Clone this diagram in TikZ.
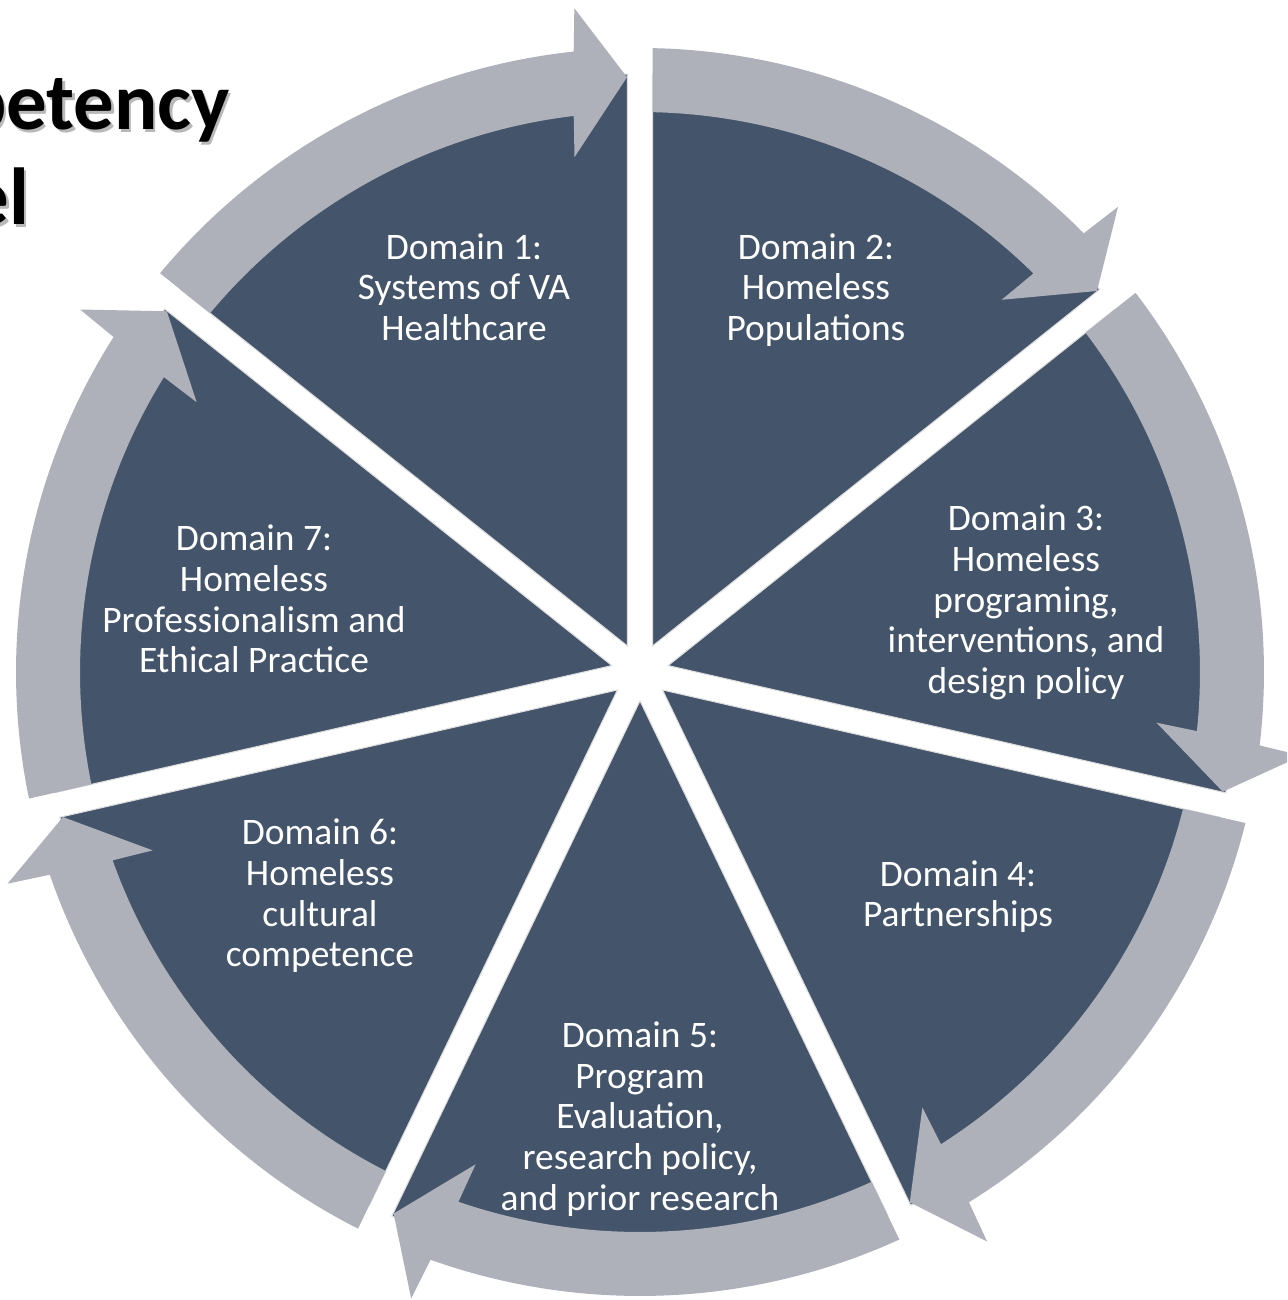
\documentclass[tikz,border=0pt]{standalone}
\usepackage{xcolor}
\usepackage{fontspec}
\setmainfont{Carlito}
\usetikzlibrary{positioning}
\definecolor{slate}{RGB}{68,84,106}
\definecolor{ring}{RGB}{174,177,185}
\definecolor{seam}{RGB}{222,222,222}
\tikzstyle{wedge}=[fill=slate, draw=seam, line width=0.6pt]
\tikzstyle{ringarrow}=[fill=ring]
\tikzset{domaintext/.style={text=white, align=center, font=\fontsize{21.3}{23.1}\selectfont}}
\tikzset{titletext/.style={font=\fontsize{46}{54}\selectfont\bfseries}}
\tikzset{titleshadow/.style={titletext, text=black!28}}
% #1 = lower boundary angle, #2 = upper boundary angle
\newcommand{\wedgepart}[2]{%
  \pgfmathsetmacro\wmid{(#1+#2)/2}%
  \draw[wedge] (\wmid:0.576) -- (#1+1.2:11.96) arc[start angle=#1+1.2, end angle=#2-1.2, radius=11.96] -- cycle;}
% clockwise arrow from boundary #2 down to boundary #1
\newcommand{\cyclearrow}[2]{%
  \fill[ringarrow] (#2-1.15:12.48) arc[start angle=#2-1.15, end angle=#1+6.1, radius=12.48]
    -- (#1+5.65:13.34) -- (#1+1.25:11.9) -- (#1+7.25:10.38) -- (#1+6.8:11.2)
    arc[start angle=#1+6.8, end angle=#2-1.28, radius=11.2] -- cycle;}

\begin{document}
\begin{tikzpicture}
  \useasboundingbox (-12.8,-12.56) rectangle (12.94,13.44);
  \clip (-12.8,-12.56) rectangle (12.94,13.44);

  %% Title (runs off the left edge)
  \draw (-8.03,10.79) node[titleshadow, anchor=base east] (T1s) {Competency};
  \draw ([yshift=-1.9cm]T1s.base west) node[titleshadow, anchor=base west] (T2s) {Model};
  \draw (-8.08,10.84) node[titletext, anchor=base east] (T1) {Competency};
  \draw ([yshift=-1.9cm]T1.base west) node[titletext, anchor=base west] (T2) {Model};

  %% Segments
  \wedgepart{90}{141.429}
  \wedgepart{38.571}{90}
  \wedgepart{-12.857}{38.571}
  \wedgepart{-64.286}{-12.857}
  \wedgepart{-115.714}{-64.286}
  \wedgepart{-167.143}{-115.714}
  \wedgepart{141.429}{192.857}

  %% Arrows round the cycle
  \cyclearrow{90}{141.429}
  \cyclearrow{38.571}{90}
  \cyclearrow{-12.857}{38.571}
  \cyclearrow{-64.286}{-12.857}
  \cyclearrow{-115.714}{-64.286}
  \cyclearrow{-167.143}{-115.714}
  \cyclearrow{141.429}{192.857}

  %% Domain texts
  \draw (-3.52,7.70) node[domaintext] (D1) {Domain 1:\\Systems of VA\\Healthcare};
  \draw (3.52,7.64) node[domaintext] (D2) {Domain 2:\\Homeless\\Populations};
  \draw (7.72,1.39) node[domaintext] (D3) {Domain 3:\\Homeless\\programing,\\interventions, and\\design policy};
  \draw (6.36,-4.49) node[domaintext] (D4) {Domain 4:\\Partnerships};
  \draw (0,-8.94) node[domaintext] (D5) {Domain 5:\\Program\\Evaluation,\\research policy,\\and prior research};
  \draw (-6.40,-4.48) node[domaintext] (D6) {Domain 6:\\Homeless\\cultural\\competence};
  \draw (-7.72,1.46) node[domaintext] (D7) {Domain 7:\\Homeless\\Professionalism and\\Ethical Practice};
\end{tikzpicture}
\end{document}
